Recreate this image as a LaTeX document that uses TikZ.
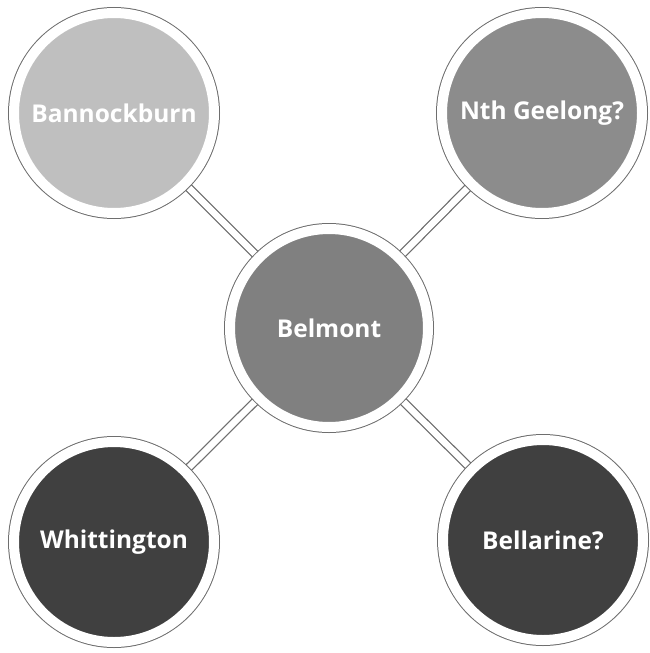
\documentclass[tikz,border=0pt]{standalone}
\usepackage{fontspec}
\setmainfont{Open Sans}
\usetikzlibrary{backgrounds}

\definecolor{ringline}{RGB}{110,110,110}
\definecolor{lightg}{RGB}{191,191,191}
\definecolor{midg}{RGB}{140,140,140}
\definecolor{centreg}{RGB}{128,128,128}
\definecolor{darkg}{RGB}{64,64,64}

\tikzset{
  town/.style={circle, fill=#1, draw=white, line width=10pt,
    preaction={draw=ringline, line width=12pt},
    minimum size=200pt, inner sep=0pt,
    text=white, font=\fontsize{24.5}{28}\selectfont\bfseries},
  link/.style={draw=ringline, line width=9pt,
    postaction={draw=white, line width=6.5pt}}
}

\begin{document}
\begin{tikzpicture}[x=1pt,y=-1pt]

\useasboundingbox (0,0) rectangle (650,653);

% the five towns
\node[town=lightg]   (bannock) at (114,113) {Bannockburn};
\node[town=midg]     (geelong) at (542,113) {Nth Geelong?};
\node[town=centreg, minimum size=198pt] (belmont) at (329,328) {Belmont};
\node[town=darkg]    (whitt)   at (114,542) {Whittington};
\node[town=darkg]    (bellar)  at (543,540) {Bellarine?};

% links behind the circles
\begin{scope}[on background layer]
\draw[link] (belmont.center) -- (bannock.center);
\draw[link] (belmont.center) -- (geelong.center);
\draw[link] (belmont.center) -- (whitt.center);
\draw[link] (belmont.center) -- (bellar.center);
\end{scope}

\end{tikzpicture}
\end{document}
